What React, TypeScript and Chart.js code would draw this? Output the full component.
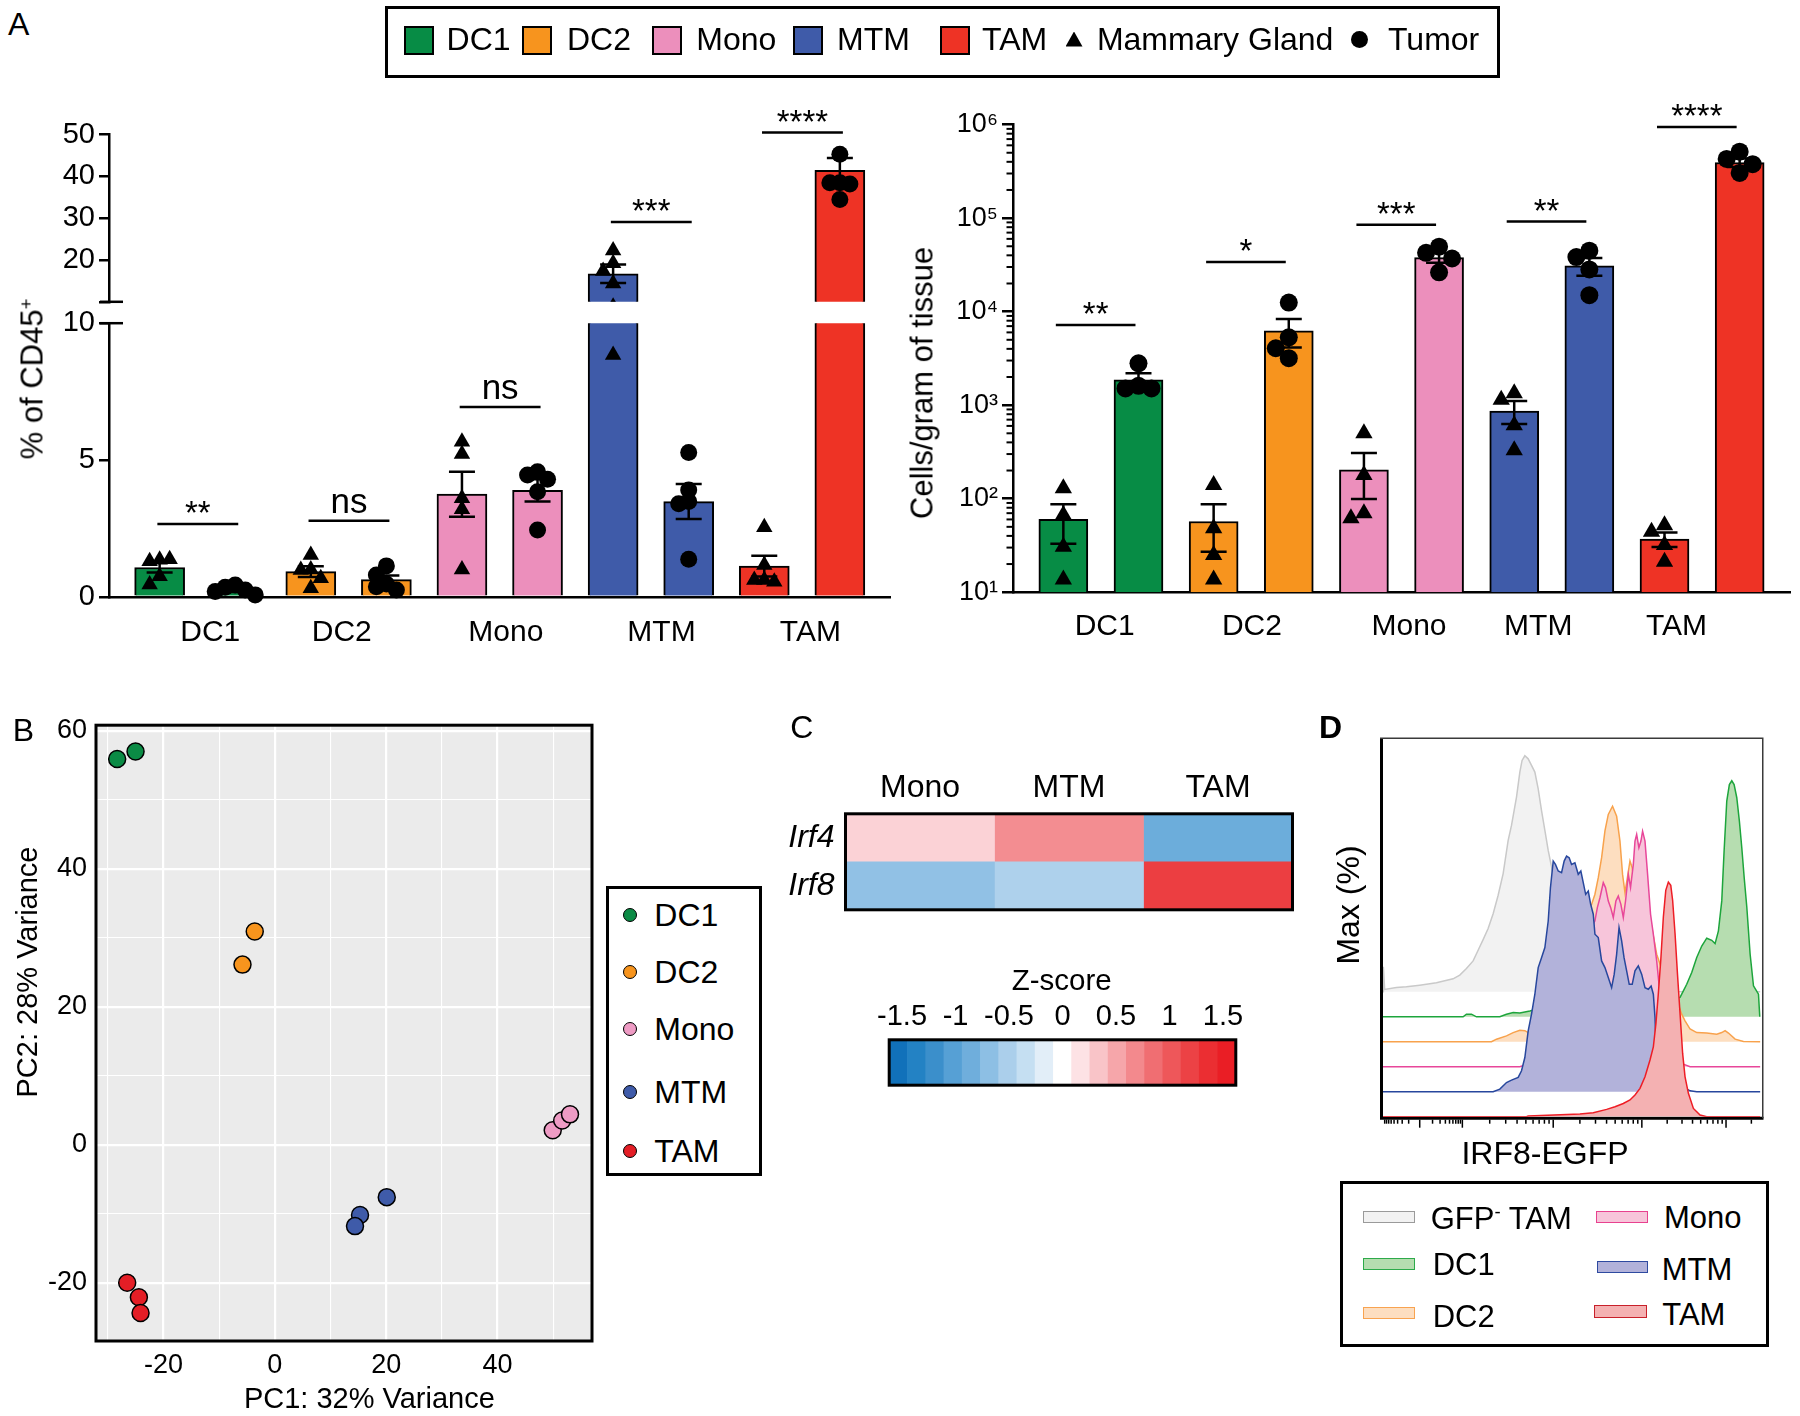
import React, { useEffect, useRef } from 'react';
import { Chart, registerables } from 'chart.js';

Chart.register(...registerables);

const FONT = '"Liberation Sans", Arial, Helvetica, sans-serif';
Chart.defaults.font.family = FONT;
Chart.defaults.color = '#000';

// ================= Panel A data =================
const GROUPS = ['DC1', 'DC2', 'Mono', 'MTM', 'TAM'];
const GROUP_COLORS = ['#078C45', '#F7941E', '#EC8FBC', '#3F5BA9', '#EE3325'];

// % of CD45+ : Mammary Gland (MG) and Tumor (T)
const PCT_MG_MEAN = [1.07, 0.92, 3.75, 16.7, 1.12];
const PCT_MG_SEM = [0.18, 0.2, 0.82, 2.2, 0.38];
const PCT_T_MEAN = [0.23, 0.63, 3.89, 3.48, 41.5];
const PCT_T_SEM = [0.05, 0.15, 0.41, 0.64, 2.9];
const PCT_MG_POINTS = [
  [1.35, 1.3, 1.37, 0.75, 0.45],
  [1.53, 1.0, 0.98, 0.68, 0.31],
  [5.67, 5.22, 3.6, 3.2, 1.0],
  [22.3, 19.25, 17.4, 14.4, 8.84],
  [2.54, 1.16, 0.61, 0.61, 0.55],
];
const PCT_T_POINTS = [
  [0.43, 0.35, 0.25, 0.19, 0.07],
  [1.13, 0.8, 0.47, 0.37, 0.25],
  [4.57, 4.45, 4.3, 3.84, 2.44],
  [5.27, 3.9, 3.48, 3.4, 1.37],
  [45.3, 38.5, 38.5, 38.2, 34.5],
];
const PCT_SIG_Y = [2.66, 2.78, 6.94, 29.1, 50.5];
const PCT_SIG_LABELS = ['**', 'ns', 'ns', '***', '****'];
const PCT_UPPER_TICKS = [10, 20, 30, 40, 50];
const PCT_LOWER_TICKS = [0, 5, 10];
const PCT_GROUP_TICK_POS = [0.67, 2.41, 4.58, 6.64, 8.61];

// Cells / gram of tissue
const CELLS_MG_MEAN = [60, 57, 203, 867, 37];
const CELLS_MG_SEM = [27, 30, 104, 240, 6.5];
const CELLS_T_MEAN = [1870, 6230, 37800, 30800, 393000];
const CELLS_T_SEM = [330, 2100, 4500, 6600, 40000];
const CELLS_MG_POINTS = [
  [129, 67, 30.7, 13.7],
  [140, 48.2, 25, 13.7],
  [500, 179, 69.8, 61.8],
  [1340, 1140, 610, 330],
  [52, 44.2, 32, 21.2],
];
const CELLS_T_POINTS = [
  [2800, 1610, 1510, 1510],
  [12500, 5320, 4060, 3180],
  [49500, 42600, 37000, 26300],
  [44900, 38300, 28300, 15000],
  [514000, 429000, 377000, 304000],
];
const CELLS_SIG_Y = [7200, 34000, 85000, 92000, 940000];
const CELLS_SIG_LABELS = ['**', '*', '***', '**', '****'];
const CELLS_TICKS = [10, 100, 1000, 10000, 100000, 1000000];
const CELLS_GROUP_TICK_POS = [0.55, 2.51, 4.6, 6.32, 8.16];
const SUP = ['⁰', '¹', '²', '³', '⁴', '⁵', '⁶'];

// ================= Panel B data =================
const PCA_PC1 = [[-28.3, -25.0], [-3.6, -5.8], [49.9, 51.6, 53.0], [20.1, 15.3, 14.4], [-26.5, -24.4, -24.1]];
const PCA_PC2 = [[55.9, 57.0], [30.9, 26.1], [2.1, 3.5, 4.4], [-7.6, -10.2, -11.8], [-20.0, -22.1, -24.4]];
const PCA_COLORS = ['#0B8B45', '#F7941D', '#EE9BC4', '#3F5BA9', '#E41E26'];
const PCA_X_GRID = [-30, -20, -10, 0, 10, 20, 30, 40, 50];
const PCA_Y_GRID = [-20, -10, 0, 10, 20, 30, 40, 50, 60];

// ================= Panel C data =================
const HEAT_GENES = ['Irf4', 'Irf8'];
const HEAT_CELLTYPES = ['Mono', 'MTM', 'TAM'];
const HEAT_Z_IRF4 = [0.26, 0.66, -0.87];
const HEAT_Z_IRF8 = [-0.66, -0.49, 1.23];
const ZBAR_TICKS = [-1.5, -1, -0.5, 0, 0.5, 1, 1.5];
const ZBAR_COLORS = [
  '#1171BA', '#2382C4', '#3B8FCB', '#56A0D5', '#6FAEDC', '#8DBFE4', '#ABCFEB', '#C5DFF2', '#E2EEF8',
  '#FFFFFF',
  '#FDE2E5', '#F9C4C8', '#F6A6AA', '#F3898D', '#F06E72', '#EE575A', '#EC4245', '#EB2E32', '#EA1E25',
];
const ZBAR_LIMIT = 1.62;

// ================= Panel D data (histograms: [channel, % of max]) =================
const HIST_GFPNEG_TAM = [[0, 0], [1, 10.6], [4.5, 1.0], [36, 1.8], [63, 2.1], [99, 2.8], [144, 3.8], [189, 5.5], [207, 7.1], [225, 9.9], [243, 13.1], [256.5, 17.6], [270, 22.1], [283.5, 26.8], [297, 33.1], [310.5, 40.9], [324, 50.1], [337.5, 64.2], [346.5, 70.5], [360, 82.5], [369, 93.1], [375, 98.0], [382.5, 100], [391.5, 98.7], [400.5, 95.9], [409.5, 93.1], [418.5, 86.0], [427.5, 76.8], [436.5, 68.4], [445.5, 59.9], [454.5, 52.9], [463.5, 44.4], [477, 33.1], [495, 20.4], [513, 10.6], [531, 4.2], [549, 1.3], [585, 0.1], [1017, 0]];
const HIST_DC1 = [[0, 0], [216, 0], [225, 1.1], [238.5, 1.1], [252, 0], [315, 0], [333, 1.1], [351, 1.8], [369, 1.6], [396, 2.5], [414, 3.2], [504, 4.7], [594, 6.1], [684, 6.8], [765, 6.8], [801, 8.2], [810, 11.0], [819, 13.8], [832.5, 18.8], [846, 25.1], [859.5, 30.0], [873, 33.3], [886.5, 32.4], [895.5, 31.0], [904.5, 36.4], [913.5, 49.1], [919.8, 70.2], [927, 91.4], [934, 98.4], [940.5, 100], [946.8, 98.4], [954, 92.8], [961, 82.9], [967.5, 71.6], [974, 58.9], [981, 46.5], [990, 26.5], [999, 13.1], [1006, 11.3], [1012.5, 9.6], [1016, 0]];
const HIST_DC2 = [[0, 0], [292.5, 0], [306, 1.1], [333, 2.5], [351, 3.9], [369, 4.9], [382.5, 4.7], [391.5, 3.9], [459, 17.3], [531, 42.7], [562.5, 58.2], [571.5, 62.5], [580.5, 69.5], [589.5, 78.0], [598.5, 89.3], [607.5, 96.3], [619, 99.8], [630, 95.6], [639, 85.0], [646, 70.9], [652.5, 63.2], [659, 69.5], [666, 76.6], [672, 73.7], [679.5, 65.3], [720, 52.6], [738, 37.1], [747, 32.9], [765, 25.1], [783, 19.5], [796.5, 15.7], [805.5, 11.7], [814.5, 8.9], [828, 5.4], [846, 3.9], [873, 3.7], [900, 3.2], [913.5, 3.9], [922.5, 4.7], [931.5, 3.7], [949.5, 1.1], [972, 0.1], [1017, 0]];
const HIST_MONO = [[0, 0], [369, 0], [414, 2.5], [477, 16.6], [540, 42.0], [562.5, 58.9], [571.5, 61.8], [578, 67.4], [585, 71.6], [594, 78.0], [600, 75.9], [607.5, 70.2], [614, 67.4], [621, 63.2], [628, 70.2], [634.5, 72.3], [641.5, 68.8], [648, 63.2], [654, 70.2], [661.5, 81.5], [667.5, 75.9], [675, 85.7], [679.5, 95.6], [684, 98.4], [690, 92.8], [695.5, 95.6], [700, 99.8], [706.5, 95.6], [713.5, 81.5], [721.5, 64.6], [729, 56.1], [738, 44.8], [747, 30.7], [765, 16.6], [792, 5.4], [810, 1.1], [828, 0], [1017, 0]];
const HIST_MTM = [[0, 0], [297, 0], [315, 1.1], [333, 3.9], [346.5, 4.9], [364.5, 6.1], [373.5, 8.9], [382.5, 14.5], [391.5, 25.8], [400.5, 32.9], [409.5, 41.3], [418.5, 52.6], [427.5, 56.8], [436.5, 61.1], [445.5, 72.3], [451.5, 86.4], [459, 97.7], [465, 96.3], [472.5, 93.5], [481.5, 92.8], [488.5, 97.7], [495, 99.8], [502, 99.1], [508.5, 96.3], [517.5, 97.0], [526.5, 92.1], [533.5, 93.5], [540, 88.6], [546.5, 83.6], [553.5, 85.0], [560, 79.4], [567, 75.2], [571.5, 66.7], [580.5, 65.3], [589.5, 55.4], [598.5, 52.6], [607.5, 48.4], [616.5, 44.1], [623.5, 49.8], [630, 58.2], [636.5, 69.5], [643.5, 63.9], [650, 56.8], [657, 51.2], [664, 45.5], [672, 45.5], [679.5, 51.2], [688.5, 53.3], [697.5, 49.8], [706.5, 44.1], [715.5, 43.4], [723, 44.8], [729, 41.3], [733.5, 31.4], [738, 10.3], [756, 3.2], [801, 1.8], [814.5, 1.6], [828, 0.4], [846, 0], [1017, 0]];
const HIST_TAM = [[0, 0], [387, 0], [391.5, 0.3], [531, 1.1], [567, 1.7], [603, 3.1], [625.5, 4.2], [648, 5.6], [666, 7.1], [679.5, 9.2], [693, 12.0], [706.5, 16.9], [720, 24.0], [729, 29.6], [736, 39.5], [742.5, 52.2], [749, 66.3], [756, 84.6], [762.5, 95.9], [769.5, 99.4], [776, 98.0], [781, 91.7], [787.5, 77.6], [794, 60.6], [801, 43.7], [808, 26.8], [814.5, 16.9], [823.5, 9.9], [837, 3.5], [855, 0.7], [873, 0], [1017, 0]];
const FLOW_MAJOR_TICKS = [99, 214, 459, 698, 925];

// drawing order: first = front
const HIST_SERIES = [
  { name: 'TAM', data: HIST_TAM, line: '#EE1D25', fill: '#F4B1B2' },
  { name: 'MTM', data: HIST_MTM, line: '#27479D', fill: '#B2B2DA' },
  { name: 'Mono', data: HIST_MONO, line: '#E8479A', fill: '#F7C5DA' },
  { name: 'DC2', data: HIST_DC2, line: '#F8A24C', fill: '#FDDEC0' },
  { name: 'DC1', data: HIST_DC1, line: '#1DA53C', fill: '#B6DDB0' },
  { name: 'GFP- TAM', data: HIST_GFPNEG_TAM, line: '#C9C9C9', fill: '#F2F2F2' },
];
const HIST_OFFSET_STEP = 10.58;

// ================= helpers =================
type Rect = { left: number; top: number; width: number; height: number };
type Area = { l: number; t: number; r: number; b: number };

function padFor(rect: Rect, a: Area) {
  return {
    left: a.l - rect.left,
    top: a.t - rect.top,
    right: rect.left + rect.width - a.r,
    bottom: rect.top + rect.height - a.b,
  };
}

const BAR_COLORS = GROUP_COLORS.flatMap((c) => [c, c]);
function barTable(mg: number[], t: number[]) {
  return GROUPS.flatMap((_, g) => [{ x: 2 * g, y: mg[g] }, { x: 2 * g + 1, y: t[g] }]);
}
function semTable(mg: number[], t: number[]) {
  return GROUPS.flatMap((_, g) => [mg[g], t[g]]);
}
function pointTable(pts: number[][], side: number) {
  return pts.flatMap((vals, g) => vals.map((v) => ({ x: 2 * g + side, y: v })));
}

function hexToRgb(h: string) {
  const n = parseInt(h.slice(1), 16);
  return [(n >> 16) & 255, (n >> 8) & 255, n & 255];
}
function zColor(z: number) {
  const n = ZBAR_COLORS.length;
  let f = ((z + ZBAR_LIMIT) / (2 * ZBAR_LIMIT)) * n - 0.5;
  f = Math.max(0, Math.min(n - 1, f));
  const i = Math.floor(f);
  const j = Math.min(n - 1, i + 1);
  const t = f - i;
  const a = hexToRgb(ZBAR_COLORS[i]);
  const b = hexToRgb(ZBAR_COLORS[j]);
  const c = a.map((v, k) => Math.round(v + (b[k] - v) * t));
  return `rgb(${c[0]},${c[1]},${c[2]})`;
}

// ================= plugins =================
const swarmPlugin = {
  id: 'swarm',
  afterDatasetsUpdate(chart: any) {
    chart.data.datasets.forEach((ds: any, di: number) => {
      if (!ds.swarm) return;
      const meta = chart.getDatasetMeta(di);
      const groups = new Map<number, any[]>();
      meta.data.forEach((el: any, i: number) => {
        const key = ds.data[i].x;
        if (!groups.has(key)) groups.set(key, []);
        groups.get(key)!.push(el);
      });
      const { step, minDist } = ds.swarm;
      groups.forEach((els) => {
        const placed: { x: number; y: number }[] = [];
        els.forEach((el: any) => {
          const cx = el.x;
          for (const k of [0, -1, 1, -2, 2]) {
            const x = cx + k * step;
            if (placed.every((p) => Math.hypot(p.x - x, p.y - el.y) >= minDist)) {
              el.x = x;
              break;
            }
          }
          placed.push({ x: el.x, y: el.y });
        });
      });
    });
  },
};

const errorBarPlugin = {
  id: 'errbars',
  afterDatasetDraw(chart: any, args: any) {
    const ds = chart.data.datasets[args.index];
    if (!ds.sem) return;
    const { ctx, chartArea } = chart;
    const ys = chart.scales.y;
    ctx.save();
    ctx.beginPath();
    ctx.rect(chartArea.left, chartArea.top, chartArea.right - chartArea.left, chartArea.bottom - chartArea.top);
    ctx.clip();
    ctx.strokeStyle = '#000';
    ctx.lineWidth = 2.5;
    args.meta.data.forEach((el: any, i: number) => {
      const m = ds.data[i].y;
      const s = ds.sem[i];
      const hi = ys.getPixelForValue(m + s);
      const lo = ys.getPixelForValue(m - s);
      const x = el.x;
      ctx.beginPath();
      ctx.moveTo(x, hi);
      ctx.lineTo(x, lo);
      ctx.moveTo(x - 13, hi);
      ctx.lineTo(x + 13, hi);
      ctx.moveTo(x - 13, lo);
      ctx.lineTo(x + 13, lo);
      ctx.stroke();
    });
    ctx.restore();
  },
};

function makeSigPlugin(values: number[], labels: string[], from: number, to: number, range: [number, number]) {
  return {
    id: 'sig',
    afterDraw(chart: any) {
      const { ctx } = chart;
      const xs = chart.scales.x;
      const ys = chart.scales.y;
      ctx.save();
      ctx.strokeStyle = '#000';
      ctx.fillStyle = '#000';
      ctx.lineWidth = 2.5;
      values.forEach((val, g) => {
        if (val < range[0] || val >= range[1]) return;
        const x0 = xs.getPixelForValue(2 * g + from);
        const x1 = xs.getPixelForValue(2 * g + to);
        const py = ys.getPixelForValue(val);
        ctx.beginPath();
        ctx.moveTo(x0, py);
        ctx.lineTo(x1, py);
        ctx.stroke();
        const label = labels[g];
        const ns = label === 'ns';
        ctx.font = `${ns ? 35 : 33}px ${FONT}`;
        ctx.textAlign = 'center';
        ctx.textBaseline = 'alphabetic';
        ctx.fillText(label, (x0 + x1) / 2, py - (ns ? 8 : 0));
      });
      ctx.restore();
    },
  };
}

function makeBreakPlugin(at: 'top' | 'bottom') {
  return {
    id: 'brk',
    afterDraw(chart: any) {
      const { ctx, chartArea } = chart;
      const y = at === 'bottom' ? chartArea.bottom : chartArea.top;
      ctx.save();
      ctx.strokeStyle = '#000';
      ctx.lineWidth = 2.5;
      ctx.beginPath();
      ctx.moveTo(chartArea.left - 9, y);
      ctx.lineTo(chartArea.left + 14, y);
      ctx.stroke();
      ctx.restore();
    },
  };
}

const logMinorPlugin = {
  id: 'logMinor',
  afterDraw(chart: any) {
    const { ctx, chartArea } = chart;
    const ys = chart.scales.y;
    ctx.save();
    ctx.strokeStyle = '#000';
    ctx.lineWidth = 2;
    for (let n = 1; n < 6; n++) {
      for (let k = 2; k < 10; k++) {
        const py = ys.getPixelForValue(k * Math.pow(10, n));
        ctx.beginPath();
        ctx.moveTo(chartArea.left - 6.5, py);
        ctx.lineTo(chartArea.left, py);
        ctx.stroke();
      }
    }
    ctx.restore();
  },
};

function makeBgPlugin(color: string) {
  return {
    id: 'bg',
    beforeDraw(chart: any) {
      const { ctx, chartArea: a } = chart;
      ctx.save();
      ctx.fillStyle = color;
      ctx.fillRect(a.left, a.top, a.right - a.left, a.bottom - a.top);
      ctx.restore();
    },
  };
}

function makeFramePlugin(width: number) {
  return {
    id: 'frame',
    afterDatasetsDraw(chart: any) {
      const { ctx, chartArea: a } = chart;
      ctx.save();
      ctx.strokeStyle = '#000';
      ctx.lineWidth = width;
      ctx.strokeRect(a.left, a.top, a.right - a.left, a.bottom - a.top);
      ctx.restore();
    },
  };
}

const flowFramePlugin = {
  id: 'flowFrame',
  beforeDatasetsDraw(chart: any) {
    const { ctx, chartArea: a } = chart;
    ctx.save();
    ctx.strokeStyle = '#000';
    ctx.lineWidth = 3;
    ctx.beginPath();
    ctx.moveTo(a.left - 1.5, a.top - 0.5);
    ctx.lineTo(a.left - 1.5, a.bottom + 3);
    ctx.moveTo(a.left - 3, a.bottom + 1.5);
    ctx.lineTo(a.right + 1.5, a.bottom + 1.5);
    ctx.stroke();
    ctx.strokeStyle = '#3a3a3a';
    ctx.lineWidth = 1.5;
    ctx.beginPath();
    ctx.moveTo(a.left - 3, a.top - 0.75);
    ctx.lineTo(a.right + 0.75, a.top - 0.75);
    ctx.lineTo(a.right + 0.75, a.bottom + 1.5);
    ctx.stroke();
    ctx.restore();
  },
};

const flowTicksPlugin = {
  id: 'flowTicks',
  afterDraw(chart: any) {
    const { ctx, chartArea } = chart;
    const xs = chart.scales.x;
    const y0 = chartArea.bottom + 3;
    ctx.save();
    ctx.strokeStyle = '#000';
    ctx.lineWidth = 1.5;
    const tick = (v: number, len: number) => {
      if (v < xs.min || v > xs.max) return;
      const px = xs.getPixelForValue(v);
      ctx.beginPath();
      ctx.moveTo(px, y0);
      ctx.lineTo(px, y0 + len);
      ctx.stroke();
    };
    const M = FLOW_MAJOR_TICKS;
    M.forEach((v) => tick(v, 8));
    for (let k = 2; k < 10; k++) tick(M[0] - M[0] * Math.log10(k), 4);
    for (let i = 0; i < M.length; i++) {
      const a = M[i];
      const b = i + 1 < M.length ? M[i + 1] : a + (a - M[i - 1]);
      for (let k = 2; k < 10; k++) tick(a + (b - a) * Math.log10(k), 4);
    }
    ctx.restore();
  },
};

// ================= chart configs =================
const RECT_PCT_UPPER: Rect = { left: 0, top: 80, width: 900, height: 250 };
const RECT_PCT_LOWER: Rect = { left: 0, top: 290, width: 900, height: 370 };
const RECT_CELLS: Rect = { left: 900, top: 70, width: 900, height: 590 };
const RECT_PCA: Rect = { left: 0, top: 700, width: 605, height: 716 };
const RECT_HEAT: Rect = { left: 760, top: 740, width: 560, height: 200 };
const RECT_ZBAR: Rect = { left: 860, top: 990, width: 400, height: 110 };
const RECT_FLOW: Rect = { left: 1360, top: 730, width: 440, height: 420 };

const axisBlack = { display: true, color: '#000', width: 2.5 };

function makePctChart(segment: 'upper' | 'lower', rect: Rect) {
  const upper = segment === 'upper';
  const area: Area = upper ? { l: 109, t: 134.7, r: 895, b: 315.9 } : { l: 109, t: 323.2, r: 895, b: 596.8 };
  const p = padFor(rect, area);
  const pointClip = upper
    ? { left: false, right: false, top: 14, bottom: 0 }
    : { left: false, right: false, top: 0, bottom: 12 };
  const yTicks = upper ? PCT_UPPER_TICKS : PCT_LOWER_TICKS;
  return {
    type: 'bar',
    data: {
      datasets: [
        {
          type: 'scatter', label: 'Mammary Gland', data: pointTable(PCT_MG_POINTS, 0), pointStyle: 'triangle',
          pointRadius: 9.5, backgroundColor: '#000', borderColor: '#000', pointBorderWidth: 0, order: 1,
          clip: pointClip, swarm: { step: 10, minDist: 10 },
        },
        {
          type: 'scatter', label: 'Tumor', data: pointTable(PCT_T_POINTS, 1), pointStyle: 'circle',
          pointRadius: 8.5, backgroundColor: '#000', borderColor: '#000', pointBorderWidth: 0, order: 1,
          clip: pointClip, swarm: { step: 10, minDist: 10 },
        },
        {
          type: 'bar', label: '% of CD45+', data: barTable(PCT_MG_MEAN, PCT_T_MEAN), sem: semTable(PCT_MG_SEM, PCT_T_SEM),
          backgroundColor: BAR_COLORS, borderColor: '#000', borderWidth: 2, barThickness: 50, order: 2, clip: 0,
        },
      ],
    },
    options: {
      responsive: false, animation: false, events: [], devicePixelRatio: 1,
      layout: { padding: { left: 0, top: p.top, right: p.right, bottom: upper ? p.bottom : 0 } },
      scales: {
        x: {
          type: 'linear', min: -0.67, max: 9.67, offset: false, display: !upper,
          afterBuildTicks: (s: any) => { s.ticks = PCT_GROUP_TICK_POS.map((v) => ({ value: v })); },
          ticks: { autoSkip: false, maxRotation: 0, padding: 17.6, font: { size: 30 }, color: '#000', callback: (_v: any, i: number) => GROUPS[i] },
          grid: { display: false, drawTicks: false },
          border: axisBlack,
          afterFit: (s: any) => { s.height = p.bottom; },
        },
        y: {
          type: 'linear', min: upper ? 10 : 0, max: upper ? 50 : 10, beginAtZero: false,
          afterBuildTicks: (s: any) => { s.ticks = yTicks.map((v) => ({ value: v })); },
          ticks: { font: { size: 29 }, color: '#000', padding: 4, callback: (v: any) => (upper && v === 10 ? '' : String(v)) },
          grid: { display: true, drawOnChartArea: false, drawTicks: true, tickLength: 10, color: '#000', lineWidth: 2.5 },
          border: axisBlack,
          afterFit: (s: any) => { s.width = p.left; },
        },
      },
      plugins: { legend: { display: false }, tooltip: { enabled: false } },
    },
    plugins: [
      swarmPlugin, errorBarPlugin,
      makeSigPlugin(PCT_SIG_Y, PCT_SIG_LABELS, -0.03, 1.04, upper ? [10, Infinity] : [-Infinity, 10]),
      makeBreakPlugin(upper ? 'bottom' : 'top'),
    ],
  };
}

function makeCellsChart(rect: Rect) {
  const area: Area = { l: 1013, t: 124.6, r: 1795, b: 592.2 };
  const p = padFor(rect, area);
  return {
    type: 'bar',
    data: {
      datasets: [
        {
          type: 'scatter', label: 'Mammary Gland', data: pointTable(CELLS_MG_POINTS, 0), pointStyle: 'triangle',
          pointRadius: 10, backgroundColor: '#000', borderColor: '#000', pointBorderWidth: 0, order: 1,
          swarm: { step: 13, minDist: 13 },
        },
        {
          type: 'scatter', label: 'Tumor', data: pointTable(CELLS_T_POINTS, 1), pointStyle: 'circle',
          pointRadius: 9, backgroundColor: '#000', borderColor: '#000', pointBorderWidth: 0, order: 1,
          swarm: { step: 13, minDist: 13 },
        },
        {
          type: 'bar', label: 'Cells/gram of tissue', data: barTable(CELLS_MG_MEAN, CELLS_T_MEAN), sem: semTable(CELLS_MG_SEM, CELLS_T_SEM),
          backgroundColor: BAR_COLORS, borderColor: '#000', borderWidth: 2, barThickness: 49, order: 2, clip: 0,
        },
      ],
    },
    options: {
      responsive: false, animation: false, events: [], devicePixelRatio: 1,
      layout: { padding: { left: 0, top: p.top, right: p.right, bottom: 0 } },
      scales: {
        x: {
          type: 'linear', min: -0.67, max: 9.67, offset: false,
          afterBuildTicks: (s: any) => { s.ticks = CELLS_GROUP_TICK_POS.map((v) => ({ value: v })); },
          ticks: { autoSkip: false, maxRotation: 0, padding: 16.8, font: { size: 30 }, color: '#000', callback: (_v: any, i: number) => GROUPS[i] },
          grid: { display: false, drawTicks: false },
          border: axisBlack,
          afterFit: (s: any) => { s.height = p.bottom; },
        },
        y: {
          type: 'logarithmic', min: 10, max: 1000000,
          afterBuildTicks: (s: any) => { s.ticks = CELLS_TICKS.map((v) => ({ value: v })); },
          ticks: { font: { size: 27 }, color: '#000', padding: 4, callback: (v: any) => '10' + SUP[Math.round(Math.log10(v))] },
          grid: { display: true, drawOnChartArea: false, drawTicks: true, tickLength: 11, color: '#000', lineWidth: 2.5 },
          border: axisBlack,
          afterFit: (s: any) => { s.width = p.left; },
        },
      },
      plugins: { legend: { display: false }, tooltip: { enabled: false } },
    },
    plugins: [swarmPlugin, errorBarPlugin, logMinorPlugin, makeSigPlugin(CELLS_SIG_Y, CELLS_SIG_LABELS, -0.1, 0.96, [-Infinity, Infinity])],
  };
}

function makePcaChart(rect: Rect) {
  const area: Area = { l: 96, t: 719, r: 592, b: 1341 };
  const p = padFor(rect, area);
  return {
    type: 'scatter',
    data: {
      datasets: GROUPS.map((g, i) => ({
        label: g,
        data: PCA_PC1[i].map((x, k) => ({ x, y: PCA_PC2[i][k] })),
        backgroundColor: PCA_COLORS[i], borderColor: '#000', pointBorderWidth: 1.5, pointRadius: 8.5,
      })),
    },
    options: {
      responsive: false, animation: false, events: [], devicePixelRatio: 1,
      layout: { padding: { left: 0, top: p.top, right: p.right, bottom: 0 } },
      scales: {
        x: {
          type: 'linear', min: -32.1, max: 56.95, offset: false,
          afterBuildTicks: (s: any) => { s.ticks = PCA_X_GRID.map((v) => ({ value: v })); },
          ticks: { autoSkip: false, maxRotation: 0, font: { size: 27 }, color: '#000', padding: 8.8, callback: (v: any) => (v % 20 === 0 ? String(v) : '') },
          grid: { color: '#fff', lineWidth: (c: any) => (c.tick && c.tick.value % 20 === 0 ? 2.2 : 1.1), drawTicks: false },
          border: { display: false },
          afterFit: (s: any) => { s.height = p.bottom; },
        },
        y: {
          type: 'linear', min: -28.45, max: 60.8, offset: false,
          afterBuildTicks: (s: any) => { s.ticks = PCA_Y_GRID.map((v) => ({ value: v })); },
          ticks: { autoSkip: false, font: { size: 27 }, color: '#000', padding: 9, callback: (v: any) => (v % 20 === 0 ? String(v) : '') },
          grid: { color: '#fff', lineWidth: (c: any) => (c.tick && c.tick.value % 20 === 0 ? 2.2 : 1.1), drawTicks: false },
          border: { display: false },
          afterFit: (s: any) => { s.width = p.left; },
        },
      },
      plugins: { legend: { display: false }, tooltip: { enabled: false } },
    },
    plugins: [makeBgPlugin('#EBEBEB'), makeFramePlugin(3)],
  };
}

function makeHeatChart(rect: Rect) {
  const area: Area = { l: 845.5, t: 813.8, r: 1292.5, b: 925.2 };
  const p = padFor(rect, area);
  return {
    type: 'bar',
    data: {
      labels: HEAT_GENES,
      datasets: HEAT_CELLTYPES.map((c, i) => ({
        label: c,
        data: HEAT_GENES.map(() => 1),
        backgroundColor: [zColor(HEAT_Z_IRF4[i]), zColor(HEAT_Z_IRF8[i])],
        borderWidth: 0, barPercentage: 1, categoryPercentage: 1,
      })),
    },
    options: {
      indexAxis: 'y',
      responsive: false, animation: false, events: [], devicePixelRatio: 1,
      layout: { padding: { left: 0, top: 0, right: p.right, bottom: p.bottom } },
      scales: {
        x: {
          type: 'linear', position: 'top', stacked: true, min: 0, max: 3, offset: false,
          afterBuildTicks: (s: any) => { s.ticks = HEAT_CELLTYPES.map((_, i) => ({ value: i + 0.5 })); },
          ticks: { autoSkip: false, maxRotation: 0, font: { size: 32 }, color: '#000', padding: 6.3, callback: (_v: any, i: number) => HEAT_CELLTYPES[i] },
          grid: { display: false, drawTicks: false },
          border: { display: false },
          afterFit: (s: any) => { s.height = p.top; },
        },
        y: {
          type: 'category', stacked: true,
          ticks: { font: { size: 32, style: 'italic' }, color: '#000', padding: 11 },
          grid: { display: false, drawTicks: false },
          border: { display: false },
          afterFit: (s: any) => { s.width = p.left; },
        },
      },
      plugins: { legend: { display: false }, tooltip: { enabled: false } },
    },
    plugins: [makeFramePlugin(3)],
  };
}

function makeZbarChart(rect: Rect) {
  const area: Area = { l: 889.2, t: 1039.8, r: 1235.8, b: 1085.2 };
  const p = padFor(rect, area);
  return {
    type: 'bar',
    data: {
      labels: ZBAR_COLORS.map((_, i) => String(i)),
      datasets: [{ label: 'Z-score', data: ZBAR_COLORS.map(() => 1), backgroundColor: ZBAR_COLORS, borderWidth: 0, barPercentage: 1, categoryPercentage: 1 }],
    },
    options: {
      responsive: false, animation: false, events: [], devicePixelRatio: 1,
      layout: { padding: { left: p.left, top: 0, right: p.right, bottom: p.bottom } },
      scales: {
        x: { display: false },
        xt: {
          type: 'linear', axis: 'x', position: 'top', min: -ZBAR_LIMIT, max: ZBAR_LIMIT, offset: false,
          afterBuildTicks: (s: any) => { s.ticks = ZBAR_TICKS.map((v) => ({ value: v })); },
          ticks: { autoSkip: false, maxRotation: 0, font: { size: 29 }, color: '#000', padding: 5.7, callback: (v: any) => String(v) },
          grid: { display: false, drawTicks: false, offset: false },
          border: { display: false },
          afterFit: (s: any) => { s.height = p.top; },
        },
        y: { display: false, min: 0, max: 1 },
      },
      plugins: { legend: { display: false }, tooltip: { enabled: false } },
    },
    plugins: [makeFramePlugin(3)],
  };
}

function makeFlowChart(rect: Rect) {
  const area: Area = { l: 1383, t: 739, r: 1762, b: 1116.7 };
  const p = padFor(rect, area);
  return {
    type: 'line',
    data: {
      datasets: HIST_SERIES.map((s, i) => ({
        label: s.name,
        data: s.data.map(([x, y]) => ({ x, y: y + i * HIST_OFFSET_STEP })),
        borderColor: s.line, backgroundColor: s.fill, borderWidth: 1.5, pointRadius: 0, tension: 0,
        fill: { value: i * HIST_OFFSET_STEP },
      })),
    },
    options: {
      responsive: false, animation: false, events: [], devicePixelRatio: 1,
      layout: { padding: { left: p.left, top: p.top, right: p.right, bottom: p.bottom } },
      scales: {
        x: { type: 'linear', display: false, min: 0, max: 1022 },
        y: { type: 'linear', display: false, min: 0, max: 160 },
      },
      plugins: { legend: { display: false }, tooltip: { enabled: false } },
    },
    plugins: [flowFramePlugin, flowTicksPlugin],
  };
}

// ================= components =================
function ChartBox({ rect, make }: { rect: Rect; make: () => any }) {
  const ref = useRef<HTMLCanvasElement | null>(null);
  useEffect(() => {
    const chart = new Chart(ref.current as HTMLCanvasElement, make());
    return () => chart.destroy();
  }, []);
  return (
    <canvas
      ref={ref}
      width={rect.width}
      height={rect.height}
      style={{ position: 'absolute', left: rect.left, top: rect.top, width: rect.width, height: rect.height }}
    />
  );
}

function Txt(props: { x: number; y: number; size: number; children: any; rotate?: boolean; bold?: boolean; italic?: boolean; left?: boolean }) {
  const { x, y, size, children, rotate, bold, italic, left } = props;
  return (
    <div
      style={{
        position: 'absolute', left: x, top: y, fontSize: size, lineHeight: `${size}px`, fontFamily: FONT,
        fontWeight: bold ? 700 : 400, fontStyle: italic ? 'italic' : 'normal', whiteSpace: 'nowrap', color: '#000',
        transform: `translate(${left ? '0' : '-50%'}, -50%)${rotate ? ' rotate(-90deg)' : ''}`,
      }}
    >
      {children}
    </div>
  );
}

const supStyle: React.CSSProperties = { fontSize: '0.6em', position: 'relative', top: '-0.55em', lineHeight: 0 };

function Box({ x, y, w, h, border, bg, radius, clip }: any) {
  return (
    <div
      style={{
        position: 'absolute', left: x, top: y, width: w, height: h, boxSizing: 'border-box',
        border: border || 'none', background: bg || 'transparent', borderRadius: radius || 0,
        clipPath: clip || 'none',
      }}
    />
  );
}

const A_LEGEND_SQUARES = [403.6, 522.4, 651.6, 793.3, 940.2];
const A_LEGEND_TEXT_X = [446.6, 567, 696.3, 837, 982];
const B_LEGEND_Y = [914.5, 972, 1029, 1092.4, 1150.7];

const D_LEGEND = [
  { name: 'GFP', sup: '-', rest: ' TAM', sx: 1362.7, sy: 1211, sw: 52.3, sh: 11.7, fill: '#F2F2F2', line: '#9A9A9A', tx: 1430.7, ty: 1217.7 },
  { name: 'DC1', sx: 1362.7, sy: 1257.7, sw: 52.3, sh: 12.3, fill: '#B6DDB0', line: '#2DAA4A', tx: 1432.7, ty: 1264.3 },
  { name: 'DC2', sx: 1362.7, sy: 1307, sw: 52.3, sh: 12, fill: '#FDDEC0', line: '#F8A350', tx: 1432.7, ty: 1316 },
  { name: 'Mono', sx: 1595.7, sy: 1211, sw: 52.6, sh: 12, fill: '#F7C5DA', line: '#E8418F', tx: 1664, ty: 1216.7 },
  { name: 'MTM', sx: 1596.7, sy: 1261, sw: 51.3, sh: 11.7, fill: '#B2B2DA', line: '#2E4AA0', tx: 1661.7, ty: 1269.3 },
  { name: 'TAM', sx: 1594, sy: 1305, sw: 52.7, sh: 12.7, fill: '#F4B1B2', line: '#C8202A', tx: 1662.3, ty: 1313.7 },
];

export default function App() {
  return (
    <div style={{ position: 'absolute', left: 0, top: 0, width: 1800, height: 1416, background: '#fff', overflow: 'hidden', fontFamily: FONT }}>
      <ChartBox rect={RECT_PCT_LOWER} make={() => makePctChart('lower', RECT_PCT_LOWER)} />
      <ChartBox rect={RECT_PCT_UPPER} make={() => makePctChart('upper', RECT_PCT_UPPER)} />
      <ChartBox rect={RECT_CELLS} make={() => makeCellsChart(RECT_CELLS)} />
      <ChartBox rect={RECT_PCA} make={() => makePcaChart(RECT_PCA)} />
      <ChartBox rect={RECT_HEAT} make={() => makeHeatChart(RECT_HEAT)} />
      <ChartBox rect={RECT_ZBAR} make={() => makeZbarChart(RECT_ZBAR)} />
      <ChartBox rect={RECT_FLOW} make={() => makeFlowChart(RECT_FLOW)} />

      {/* Panel letters */}
      <Txt x={18.6} y={24} size={32}>A</Txt>
      <Txt x={23.5} y={729.5} size={32}>B</Txt>
      <Txt x={801.7} y={726.7} size={32}>C</Txt>
      <Txt x={1330.5} y={726.7} size={32} bold>D</Txt>

      {/* Panel A legend */}
      <Box x={384.6} y={6.3} w={1115.3} h={71.6} border="3px solid #000" />
      {GROUPS.map((g, i) => (
        <React.Fragment key={g}>
          <Box x={A_LEGEND_SQUARES[i]} y={25.5} w={30} h={29} border="2.5px solid #000" bg={GROUP_COLORS[i]} />
          <Txt x={A_LEGEND_TEXT_X[i]} y={39.4} size={32} left>{g}</Txt>
        </React.Fragment>
      ))}
      <Box x={1065.5} y={31.5} w={17} h={15} bg="#000" clip="polygon(50% 0, 100% 100%, 0 100%)" />
      <Txt x={1096.9} y={39.4} size={32} left>Mammary Gland</Txt>
      <Box x={1350.8} y={30.5} w={17} h={17} bg="#000" radius="50%" />
      <Txt x={1388} y={39.4} size={32} left>Tumor</Txt>

      {/* Panel A axis titles */}
      <Txt x={31.5} y={379} size={31} rotate>% of CD45<span style={supStyle}>+</span></Txt>
      <Txt x={921.5} y={383} size={31} rotate>Cells/gram of tissue</Txt>

      {/* Panel B titles + legend */}
      <Txt x={27.4} y={971.7} size={29} rotate>PC2: 28% Variance</Txt>
      <Txt x={369.4} y={1398} size={29}>PC1: 32% Variance</Txt>
      <Box x={606} y={886.4} w={156} h={289.6} border="3px solid #000" bg="#fff" />
      {GROUPS.map((g, i) => (
        <React.Fragment key={'b' + g}>
          <Box x={623.2} y={B_LEGEND_Y[i] - 7} w={14} h={14} radius="50%" bg={PCA_COLORS[i]} border="1px solid #000" />
          <Txt x={654.3} y={B_LEGEND_Y[i]} size={32} left>{g}</Txt>
        </React.Fragment>
      ))}

      {/* Panel C colour key title */}
      <Txt x={1061.7} y={980} size={29.5}>Z-score</Txt>

      {/* Panel D titles + legend */}
      <Txt x={1348.3} y={905} size={32} rotate>Max (%)</Txt>
      <Txt x={1545} y={1152.7} size={32}>IRF8-EGFP</Txt>
      <Box x={1340} y={1181} w={429} h={166} border="3px solid #000" />
      {D_LEGEND.map((d) => (
        <React.Fragment key={'d' + d.name + d.tx}>
          <Box x={d.sx} y={d.sy} w={d.sw} h={d.sh} bg={d.fill} border={`1.5px solid ${d.line}`} />
          <Txt x={d.tx} y={d.ty} size={31} left>
            {d.name}
            {d.sup ? <span style={supStyle}>{d.sup}</span> : null}
            {d.rest || ''}
          </Txt>
        </React.Fragment>
      ))}
    </div>
  );
}
